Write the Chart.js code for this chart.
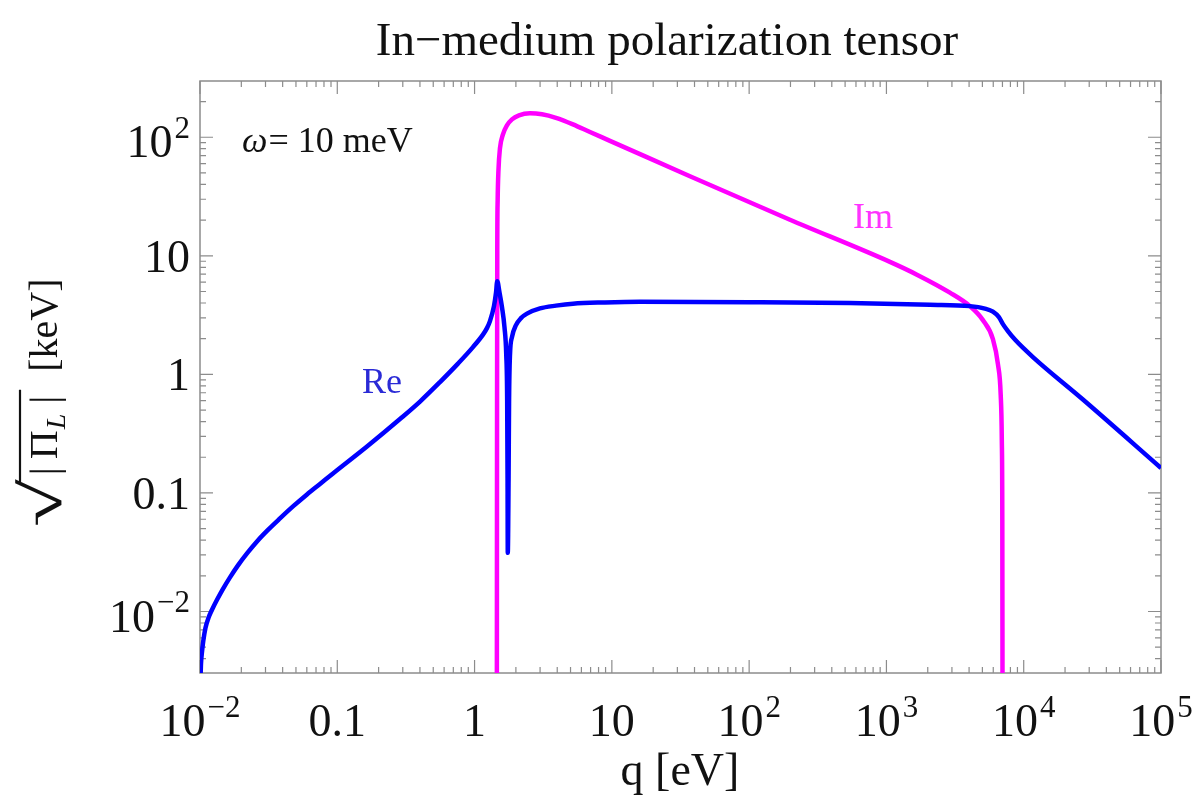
<!DOCTYPE html>
<html>
<head>
<meta charset="utf-8">
<script src="https://cdn.jsdelivr.net/npm/chart.js@4.4.0/dist/chart.umd.min.js"></script>
<style>
  html, body { margin: 0; padding: 0; background: #fff; }
  #wrap { width: 1192px; height: 795px; }
</style>
</head>
<body>
<div id="wrap"><canvas id="chart" width="1192" height="795"></canvas></div>
<script>
// axis ranges and tick labels
const xMin = 0.01, xMax = 1e5;
const yMin = 0.00303, yMax = 298;
const xTickValues = [1e-2, 0.1, 1, 10, 100, 1e3, 1e4, 1e5];
const xTickLabels = ['10^\u22122', '0.1', '1', '10', '10^2', '10^3', '10^4', '10^5'];
const yTickValues = [1e-2, 0.1, 1, 10, 100];
const yTickLabels = ['10^\u22122', '0.1', '1', '10', '10^2'];

// Re part: q [eV] and sqrt|Pi_L| [keV]
const reQ = [0.010034, 0.010169, 0.010341, 0.010569, 0.010966, 0.011532, 0.012229, 0.013301, 0.014712, 0.016539,
  0.018912, 0.021996, 0.026012, 0.031277, 0.038251, 0.047565, 0.060166, 0.074817, 0.093038, 0.16458,
  0.28617, 0.40045, 0.55976, 0.75699, 0.97353, 1.1513, 1.2311, 1.2945, 1.3843, 1.4315, 1.4631,
  1.5178, 1.5834, 1.6512, 1.7017, 1.7276, 1.7392, 1.7451,
  1.7686, 1.7835, 1.8106, 1.8724, 2.0024, 2.1775, 2.4075, 2.9945, 3.916, 5.207,
  8.9034, 16.021, 101.35, 542.2, 2074, 4056, 5215, 5965, 6597, 7055,
  7672, 8629, 11668, 26996, 100000];
const reVal = [0.00219, 0.003626, 0.004576, 0.005664, 0.00729, 0.008849, 0.010335, 0.012548, 0.01553, 0.019414,
  0.0245, 0.030926, 0.039028, 0.048796, 0.060981, 0.076947, 0.097141, 0.11906, 0.146, 0.24643,
  0.42017, 0.58982, 0.86117, 1.2328, 1.6981, 2.1645, 2.455, 2.8122, 3.7627, 4.8409, 6.1103,
  4.9356, 3.6904, 2.5033, 1.454, 0.60742, 0.1287, 0.031233,
  0.1287, 0.60742, 1.454, 2.062, 2.6025, 2.9811, 3.253, 3.5976, 3.7985, 3.9486,
  4.0416, 4.089, 4.0652, 4.0026, 3.8727, 3.7627, 3.5839, 3.3811, 3.0395, 2.6535,
  2.3165, 1.9643, 1.3985, 0.61332, 0.1624];

// Im part
const imQ = [1.4533, 1.4582, 1.4631, 1.4729, 1.4928, 1.5309, 1.61, 1.7215, 1.8723, 2.1053,
  2.532, 3.0967, 3.9159, 5.207, 6.9262, 9.6858, 37.05, 198.24, 1060.4, 1667.6,
  2900.7, 4055.8, 5044.6, 5965.1, 6487, 6798.9, 6925.5, 6983.8, 7007.3];
const imVal = [0.00219, 0.6074, 11.15, 29.404, 52.61, 80.64, 105.79, 125.96, 141.5, 152.95,
  159.0, 155.96, 145.7, 128.4, 110.6, 93.26, 46.84, 20.146, 8.886, 6.933,
  4.888, 3.7627, 2.8672, 1.9834, 1.2211, 0.66918, 0.27964, 0.059245, 0.00219];

const toPoints = (qs, vs) => qs.map((q, i) => ({ x: q, y: vs[i] }));

const serif = '"Liberation Serif", "DejaVu Serif", serif';

// label with optional superscript: "10^2"
function drawSup(ctx, label, x, baseline, size, align) {
  const parts = label.split('^');
  const supSize = Math.round(size * 0.68);
  ctx.font = size + 'px ' + serif;
  const wBase = ctx.measureText(parts[0]).width;
  let wSup = 0;
  if (parts[1]) {
    ctx.font = supSize + 'px ' + serif;
    wSup = ctx.measureText(parts[1]).width + 2;
  }
  const total = wBase + wSup;
  let start = x;
  if (align === 'center') start = x - total / 2;
  if (align === 'right') start = x - total;
  ctx.textAlign = 'left';
  ctx.textBaseline = 'alphabetic';
  ctx.font = size + 'px ' + serif;
  ctx.fillText(parts[0], start, baseline);
  if (parts[1]) {
    ctx.font = supSize + 'px ' + serif;
    ctx.fillText(parts[1], start + wBase + 2, baseline - size * 0.42);
  }
}

const framePlugin = {
  id: 'framePlugin',
  beforeDatasetsDraw(chart) {
    const { ctx, chartArea: a, scales: { x, y } } = chart;
    ctx.save();
    ctx.strokeStyle = '#8c8c8c';
    ctx.lineWidth = 1.5;
    ctx.strokeRect(a.left, a.top, a.right - a.left, a.bottom - a.top);
    ctx.lineWidth = 1.2;
    ctx.beginPath();
    for (let e = -3; e <= 5; e++) {
      for (let m = 1; m <= 9; m++) {
        const v = m * Math.pow(10, e);
        const len = m === 1 ? 13 : 6;
        if (v >= xMin && v <= xMax) {
          const px = x.getPixelForValue(v);
          ctx.moveTo(px, a.bottom); ctx.lineTo(px, a.bottom - len);
          ctx.moveTo(px, a.top); ctx.lineTo(px, a.top + len);
        }
        if (v >= yMin && v <= yMax) {
          const py = y.getPixelForValue(v);
          ctx.moveTo(a.left, py); ctx.lineTo(a.left + len, py);
          ctx.moveTo(a.right, py); ctx.lineTo(a.right - len, py);
        }
      }
    }
    ctx.stroke();
    ctx.restore();
  },
  afterDraw(chart) {
    const { ctx, chartArea: a, scales: { x, y } } = chart;
    ctx.save();
    ctx.fillStyle = '#111';
    // tick labels
    xTickValues.forEach((v, i) => {
      drawSup(ctx, xTickLabels[i], x.getPixelForValue(v), a.bottom + 63, 46, 'center');
    });
    yTickValues.forEach((v, i) => {
      const sup = yTickLabels[i].indexOf('^') >= 0;
      drawSup(ctx, yTickLabels[i], a.left - 10, y.getPixelForValue(v) + (sup ? 20 : 16), 46, 'right');
    });
    // title
    ctx.textAlign = 'center';
    ctx.font = '47px ' + serif;
    ctx.fillText('In\u2212medium polarization tensor', 667, 55);
    // x axis title
    ctx.font = '46px ' + serif;
    ctx.fillText('q [eV]', 680, 785);
    // annotation
    ctx.textAlign = 'left';
    ctx.font = 'italic 36px ' + serif;
    ctx.fillText('\u03c9', 242, 152);
    const wOm = ctx.measureText('\u03c9').width;
    ctx.font = '36px ' + serif;
    ctx.fillText('= 10 meV', 242 + wOm + 1, 152);
    // curve labels
    ctx.fillStyle = '#2a2ad6';
    ctx.fillText('Re', 362, 393);
    ctx.fillStyle = '#ff33ff';
    ctx.fillText('Im', 853, 228);
    // y axis title, rotated
    ctx.fillStyle = '#111';
    ctx.translate(57, 0);
    ctx.rotate(-Math.PI / 2);
    let u = -527;
    ctx.font = '58px ' + serif;
    ctx.save();
    ctx.translate(u, 4);
    ctx.scale(1.5, 1);
    ctx.fillText('\u221a', 0, 0);
    const wRad = ctx.measureText('\u221a').width * 1.5;
    ctx.restore();
    u += wRad;
    const uBar0 = u - 3;
    ctx.font = '40px ' + serif;
    ctx.fillText('|\u2009\u03a0', u + 4, 0);
    u += 4 + ctx.measureText('|\u2009\u03a0').width;
    ctx.font = 'italic 28px ' + serif;
    ctx.fillText('L', u + 1, 8);
    u += 1 + ctx.measureText('L').width;
    ctx.font = '40px ' + serif;
    ctx.fillText('\u2009|', u + 2, 0);
    u += 2 + ctx.measureText('\u2009|').width;
    const uBar1 = u + 6;
    ctx.strokeStyle = '#111';
    ctx.lineWidth = 2.2;
    ctx.beginPath();
    ctx.moveTo(uBar0, -37);
    ctx.lineTo(uBar1, -37);
    ctx.stroke();
    ctx.fillText('[keV]', u + 24, 0);
    ctx.restore();
  }
};

new Chart(document.getElementById('chart'), {
  type: 'line',
  data: {
    datasets: [
      {
        label: 'Re',
        data: toPoints(reQ, reVal),
        borderColor: '#0000ff',
        borderWidth: 4.5,
        pointRadius: 0,
        cubicInterpolationMode: 'monotone',
        clip: 0,
        fill: false
      },
      {
        label: 'Im',
        data: toPoints(imQ, imVal),
        borderColor: '#ff00ff',
        borderWidth: 4.5,
        pointRadius: 0,
        cubicInterpolationMode: 'monotone',
        clip: 0,
        fill: false
      }
    ]
  },
  options: {
    responsive: false,
    animation: false,
    events: [],
    layout: { padding: { left: 200, right: 31, top: 81, bottom: 122 } },
    plugins: { legend: { display: false }, tooltip: { enabled: false } },
    scales: {
      x: {
        type: 'logarithmic', display: false, min: xMin, max: xMax, bounds: 'data',
        afterDataLimits: (s) => { s.min = xMin; s.max = xMax; }
      },
      y: {
        type: 'logarithmic', display: false, min: yMin, max: yMax, bounds: 'data',
        afterDataLimits: (s) => { s.min = yMin; s.max = yMax; }
      }
    }
  },
  plugins: [framePlugin]
});
</script>
</body>
</html>
